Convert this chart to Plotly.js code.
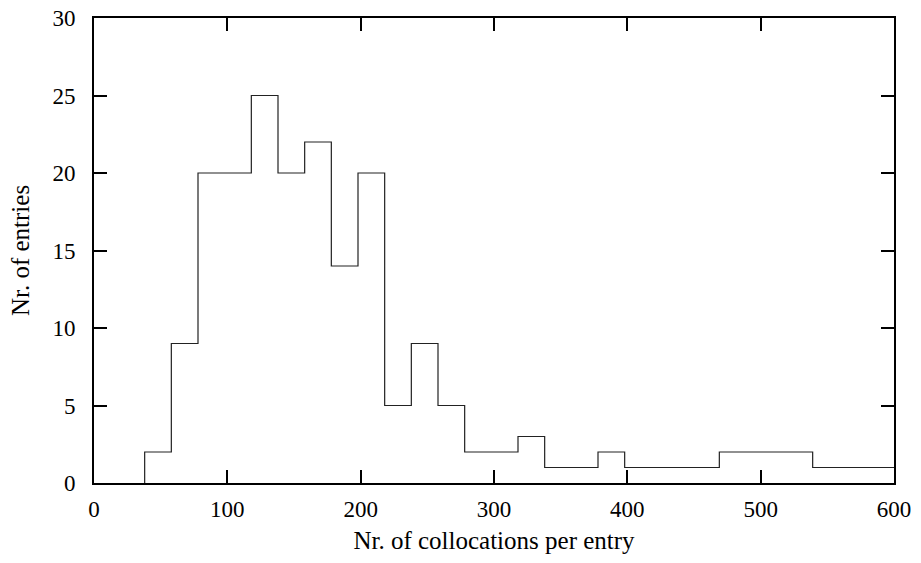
<!DOCTYPE html>
<html>
<head>
<meta charset="utf-8">
<script src="https://cdn.plot.ly/plotly-3.0.1.min.js"></script>
<style>html,body{margin:0;padding:0;background:#fff;}#chart{width:921px;height:563px;}</style>
</head>
<body>
<div id="chart"></div>
<script>
// Bin edges (left edge of each step) and counts
const binEdges = [38, 58, 78, 118, 138, 158, 178, 198, 218, 238, 258, 278, 318, 338, 378, 398, 469, 539];
const binEnd = 600;
const counts   = [2, 9, 20, 25, 20, 22, 14, 20, 5, 9, 5, 2, 3, 1, 2, 1, 2, 1];
const xTicks = [0, 100, 200, 300, 400, 500, 600];
const yTicks = [0, 5, 10, 15, 20, 25, 30];

const xs = [binEdges[0]];
const ys = [0];
for (let i = 0; i < binEdges.length; i++) { xs.push(binEdges[i]); ys.push(counts[i]); }
xs.push(binEnd); ys.push(counts[counts.length - 1]);

const family = '"Liberation Serif", "Times New Roman", serif';
const tickFont = {family: family, size: 23, color: '#000'};
const titleFont = {family: family, size: 25, color: '#000'};

const trace = {
  x: xs, y: ys, type: 'scatter', mode: 'lines',
  line: {shape: 'hv', color: '#222', width: 1.2},
  hoverinfo: 'skip', showlegend: false
};

const axisCommon = {
  showgrid: false, zeroline: false, showline: true, linecolor: '#000', linewidth: 2,
  mirror: 'allticks', ticks: 'inside', ticklen: 13, tickwidth: 2, tickcolor: '#000',
  tickfont: tickFont
};

const layout = {
  width: 921, height: 563,
  margin: {l: 94, r: 27, t: 18, b: 80},
  paper_bgcolor: '#fff', plot_bgcolor: '#fff',
  font: tickFont,
  xaxis: Object.assign({}, axisCommon, {
    range: [0, 600], tickvals: xTicks, ticktext: xTicks.map(String),
    ticklabelstandoff: 4,
    title: {text: 'Nr. of collocations per entry', font: titleFont, standoff: 11}
  }),
  yaxis: Object.assign({}, axisCommon, {
    range: [0, 30], tickvals: yTicks, ticktext: yTicks.map(String),
    ticklabelstandoff: 12,
    title: {text: 'Nr. of entries', font: titleFont, standoff: 16}
  })
};

Plotly.newPlot('chart', [trace], layout, {staticPlot: true, displayModeBar: false});
</script>
</body>
</html>
